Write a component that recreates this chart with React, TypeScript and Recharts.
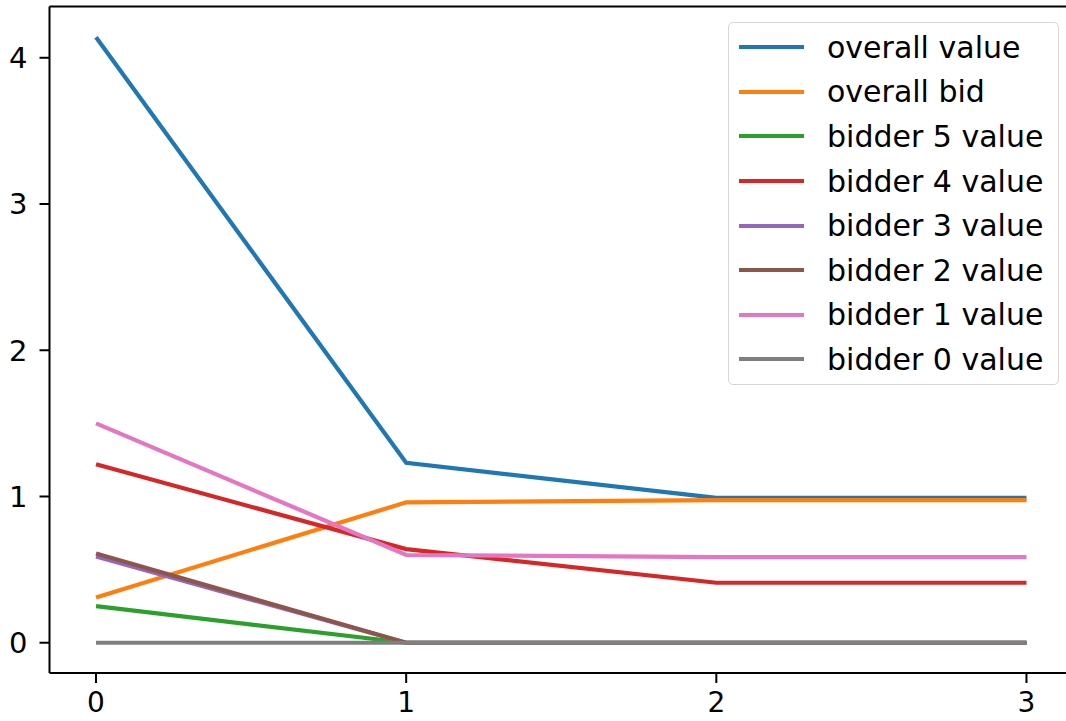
import { LineChart, Line, XAxis, YAxis, ReferenceLine } from 'recharts';

const steps = [0, 1, 2, 3];
const overallValue = [4.14, 1.23, 0.99, 0.99];
const overallBid = [0.31, 0.96, 0.975, 0.975];
const bidder5 = [0.25, 0, 0, 0];
const bidder4 = [1.22, 0.64, 0.41, 0.41];
const bidder3 = [0.59, 0, 0, 0];
const bidder2 = [0.61, 0, 0, 0];
const bidder1 = [1.5, 0.6, 0.585, 0.585];
const bidder0 = [0, 0, 0, 0];
const xTicks = [0, 1, 2, 3];
const yTicks = [0, 1, 2, 3, 4];

const series = [
  { key: 'overallValue', name: 'overall value', color: '#1f77b4', values: overallValue },
  { key: 'overallBid', name: 'overall bid', color: '#ff7f0e', values: overallBid },
  { key: 'bidder5', name: 'bidder 5 value', color: '#2ca02c', values: bidder5 },
  { key: 'bidder4', name: 'bidder 4 value', color: '#d62728', values: bidder4 },
  { key: 'bidder3', name: 'bidder 3 value', color: '#9467bd', values: bidder3 },
  { key: 'bidder2', name: 'bidder 2 value', color: '#8c564b', values: bidder2 },
  { key: 'bidder1', name: 'bidder 1 value', color: '#e377c2', values: bidder1 },
  { key: 'bidder0', name: 'bidder 0 value', color: '#7f7f7f', values: bidder0 },
];

const data = steps.map((s, i) => {
  const row: Record<string, number> = { step: s };
  series.forEach((sr) => (row[sr.key] = sr.values[i]));
  return row;
});

const font = 'DejaVu Sans';

// legend drawn as an overlay so it doesn't eat into the plot area
const LegendBox = () => (
  <div
    style={{
      position: 'absolute',
      left: 728,
      top: 22,
      width: 331,
      boxSizing: 'border-box',
      background: 'rgba(255,255,255,0.8)',
      border: '1.5px solid #d6d6d6',
      borderRadius: 5,
      padding: '2px 0 2px 10px',
      fontFamily: font,
      fontSize: 30,
      color: '#000',
    }}
  >
    {series.map((s) => (
      <div key={s.key} style={{ display: 'flex', alignItems: 'center', height: 44.6 }}>
        <div style={{ width: 65, height: 4, background: s.color, marginRight: 23 }} />
        <span style={{ whiteSpace: 'nowrap' }}>{s.name}</span>
      </div>
    ))}
  </div>
);

export default function App() {
  return (
    <div style={{ position: 'absolute', left: 0, top: 0, width: 1066, height: 721, overflow: 'hidden', background: '#fff' }}>
      <LineChart
        width={1073}
        height={721}
        data={data}
        margin={{ top: 6.6, right: 0, bottom: 0, left: 0 }}
      >
        <XAxis
          dataKey='step'
          type='number'
          domain={[-0.15, 3.15]}
          ticks={xTicks}
          allowDataOverflow
          height={48}
          tickSize={10}
          tickMargin={9}
          stroke='#000'
          strokeWidth={2}
          tick={{ fill: '#000', fontSize: 28, fontFamily: font }}
        />
        <YAxis
          type='number'
          domain={[-0.207, 4.35]}
          ticks={yTicks}
          allowDataOverflow
          width={49.5}
          tickSize={10}
          tickMargin={12}
          stroke='#000'
          strokeWidth={2}
          tick={{ fill: '#000', fontSize: 29, fontFamily: font }}
        />
        <ReferenceLine y={4.35} stroke='#000' strokeWidth={2} />
        {series.map((s) => (
          <Line
            key={s.key}
            dataKey={s.key}
            name={s.name}
            stroke={s.color}
            strokeWidth={4.2}
            dot={false}
            type='linear'
            isAnimationActive={false}
          />
        ))}
      </LineChart>
      <LegendBox />
    </div>
  );
}
